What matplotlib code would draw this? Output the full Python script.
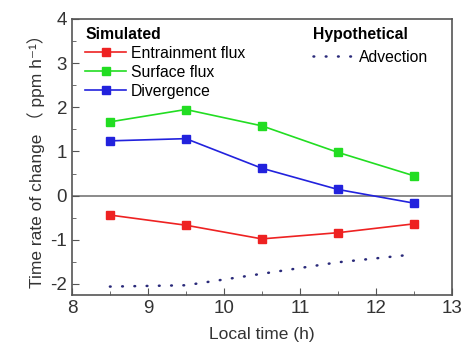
import matplotlib
matplotlib.use("Agg")
import matplotlib.pyplot as plt
from matplotlib.ticker import MultipleLocator

plt.rcParams['font.family'] = ['Liberation Sans', 'Noto Sans CJK SC', 'DejaVu Sans']
plt.rcParams['axes.unicode_minus'] = False

# data
hours = [8.5, 9.5, 10.5, 11.5, 12.5]
entrainment = [-0.44, -0.67, -0.98, -0.84, -0.64]
surface = [1.67, 1.95, 1.58, 0.98, 0.45]
divergence = [1.24, 1.29, 0.62, 0.14, -0.17]
advection_hours = [8.5, 9.5, 10.5, 11.5, 12.45]
advection = [-2.06, -2.03, -1.77, -1.51, -1.34]

fig = plt.figure(figsize=(4.61, 3.45), dpi=100)
ax = fig.add_axes([0.156, 0.145, 0.824, 0.80])

ax.axhline(0, color='#777777', lw=1.2, zorder=1)

l1, = ax.plot(hours, entrainment, color='#ee2222', marker='s', ms=5.5, lw=1.2,
              label='Entrainment flux')
l2, = ax.plot(hours, surface, color='#22dd22', marker='s', ms=5.5, lw=1.2,
              label='Surface flux')
l3, = ax.plot(hours, divergence, color='#2222dd', marker='s', ms=5.5, lw=1.2,
              label='Divergence')
l4, = ax.plot(advection_hours, advection, color='#2a2a7a', lw=1.8,
              linestyle=(0, (0.3, 4.6)), dash_capstyle='round', label='Advection')

ax.set_xlim(8, 13)
ax.set_ylim(-2.25, 4)
ax.xaxis.set_major_locator(MultipleLocator(1))
ax.xaxis.set_minor_locator(MultipleLocator(0.5))
ax.yaxis.set_major_locator(MultipleLocator(1))
ax.yaxis.set_minor_locator(MultipleLocator(0.5))
ax.tick_params(which='both', direction='in', color='#555555', labelsize=13.5,
               labelcolor='#333333')
ax.tick_params(which='major', length=5)
ax.tick_params(which='minor', length=3)
for sp in ax.spines.values():
    sp.set_color('#555555')
    sp.set_linewidth(1.2)

ax.set_xlabel('Local time (h)', fontsize=12.5, color='#333333', labelpad=7)
ax.set_ylabel('Time rate of change （ ppm h⁻¹）', fontsize=12.5, color='#333333',
              labelpad=4)

leg1 = ax.legend(handles=[l1, l2, l3], title='Simulated', loc='upper left',
                 bbox_to_anchor=(0.01, 1.006), frameon=False, fontsize=11.3,
                 handlelength=2.6, handletextpad=0.3, labelspacing=0.25,
                 borderaxespad=0.2, alignment='left',
                 title_fontproperties={'weight': 'bold', 'size': 11.3})
ax.add_artist(leg1)
ax.legend(handles=[l4], title='Hypothetical', loc='upper left',
          bbox_to_anchor=(0.61, 1.006), frameon=False, fontsize=11.3,
          handlelength=2.6, handletextpad=0.3, borderaxespad=0.2,
          alignment='left', title_fontproperties={'weight': 'bold', 'size': 11.3})

fig.savefig('out.png', dpi=100)
